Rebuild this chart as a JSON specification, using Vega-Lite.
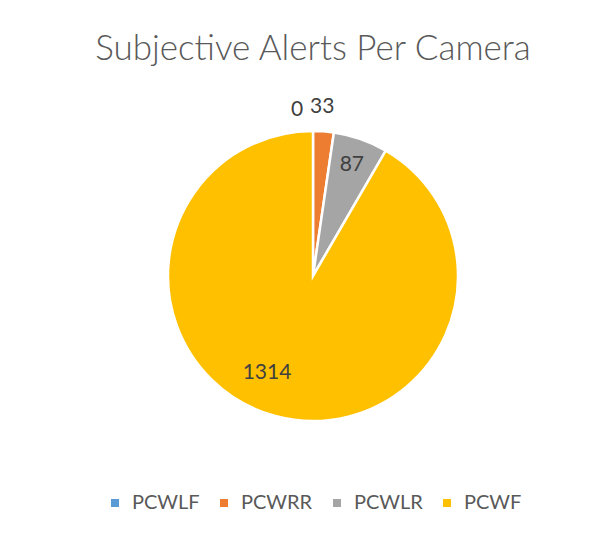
{
  "$schema": "https://vega.github.io/schema/vega-lite/v6.json",
  "width": 612,
  "height": 533,
  "autosize": {"type": "fit", "contains": "padding"},
  "padding": {"left": 14, "right": 0, "top": 32, "bottom": 20},
  "background": "white",
  "title": {
    "text": "Subjective Alerts Per Camera",
    "font": "Lato",
    "fontWeight": 300,
    "fontSize": 35,
    "color": "#595959",
    "anchor": "middle",
    "offset": 10
  },
  "data": {
    "values": [
      {"camera": "PCWLF", "alerts": 0},
      {"camera": "PCWRR", "alerts": 33},
      {"camera": "PCWLR", "alerts": 87},
      {"camera": "PCWF", "alerts": 1314}
    ]
  },
  "encoding": {
    "theta": {"field": "alerts", "type": "quantitative", "stack": true},
    "color": {
      "field": "camera",
      "type": "nominal",
      "sort": ["PCWLF", "PCWRR", "PCWLR", "PCWF"],
      "scale": {
        "domain": ["PCWLF", "PCWRR", "PCWLR", "PCWF"],
        "range": ["#5B9BD5", "#ED7D31", "#A5A5A5", "#FFC000"]
      },
      "legend": {
        "orient": "bottom",
        "direction": "horizontal",
        "title": null,
        "symbolType": "square",
        "symbolSize": 64,
        "symbolStrokeWidth": 0,
        "labelFont": "Lato",
        "labelFontSize": 20,
        "labelColor": "#595959",
        "columnPadding": 14,
        "labelOffset": 7
      }
    },
    "order": {"field": "alerts", "sort": "ascending"}
  },
  "layer": [
    {
      "mark": {"type": "arc", "outerRadius": 145, "stroke": "white", "strokeWidth": 2.5}
    },
    {
      "mark": {"type": "text", "radius": 118, "font": "Lato", "fontSize": 21, "dx": 0},
      "encoding": {
        "text": {"condition": {"test": "datum.camera === 'PCWLR'", "field": "alerts", "type": "quantitative"}, "value": ""},
        "color": {"value": "#404040"}
      }
    },
    {
      "mark": {"type": "text", "radius": 100, "font": "Lato", "fontSize": 21, "dx": -20},
      "encoding": {
        "text": {"condition": {"test": "datum.camera === 'PCWF'", "field": "alerts", "type": "quantitative"}, "value": ""},
        "color": {"value": "#404040"}
      }
    },
    {
      "mark": {"type": "text", "radius": 169, "font": "Lato", "fontSize": 21, "dx": -3},
      "encoding": {
        "text": {"condition": {"test": "datum.camera === 'PCWRR'", "field": "alerts", "type": "quantitative"}, "value": ""},
        "color": {"value": "#404040"}
      }
    },
    {
      "mark": {"type": "text", "radius": 166, "font": "Lato", "fontSize": 21, "dx": -16},
      "encoding": {
        "text": {"condition": {"test": "datum.camera === 'PCWLF'", "field": "alerts", "type": "quantitative"}, "value": ""},
        "color": {"value": "#404040"}
      }
    }
  ],
  "config": {
    "view": {"stroke": null},
    "legend": {"layout": {"bottom": {"anchor": "middle"}}}
  }
}
